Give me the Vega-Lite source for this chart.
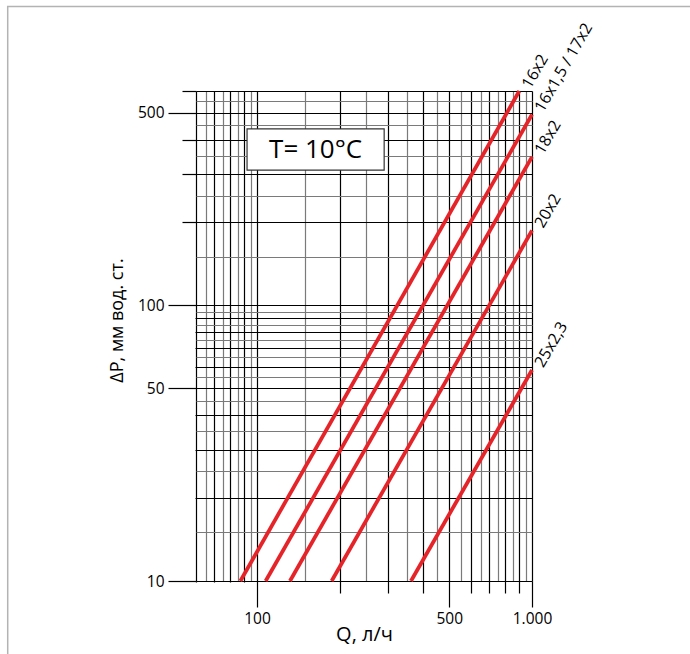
{
  "$schema": "https://vega.github.io/schema/vega-lite/v6.json",
  "width": 336,
  "height": 490,
  "autosize": "none",
  "padding": {"left": 196, "top": 91, "right": 158, "bottom": 73},
  "background": "white",
  "config": {"view": {"stroke": null}, "font": "Open Sans"},
  "datasets": {
    "curves": [
      {"series": "16x2", "Q": 87, "dP": 10},
      {"series": "16x2", "Q": 899, "dP": 600, "label": "16x2"},
      {"series": "16x1,5 / 17x2", "Q": 107.5, "dP": 10},
      {"series": "16x1,5 / 17x2", "Q": 1000, "dP": 493, "label": "16x1,5 / 17x2"},
      {"series": "18x2", "Q": 131.8, "dP": 10},
      {"series": "18x2", "Q": 1000, "dP": 346, "label": "18x2"},
      {"series": "20x2", "Q": 186.8, "dP": 10},
      {"series": "20x2", "Q": 1000, "dP": 187, "label": "20x2"},
      {"series": "25x2,3", "Q": 363, "dP": 10},
      {"series": "25x2,3", "Q": 1000, "dP": 58.3, "label": "25x2,3"}
    ]
  },
  "layer": [
    {
      "data": {"values": [{"frame": "page"}]},
      "mark": {"type": "rect", "filled": false, "stroke": "#b3b3b3", "strokeWidth": 1.5},
      "encoding": {
        "x": {"datum": 12.4, "type": "quantitative"},
        "x2": {"datum": 5000},
        "y": {"datum": 1215, "type": "quantitative"},
        "y2": {"datum": 3}
      }
    },
    {
      "data": {"name": "curves"},
      "mark": {"type": "line", "color": "#e5242a", "strokeWidth": 3.8, "strokeCap": "butt"},
      "encoding": {
        "x": {
          "field": "Q",
          "type": "quantitative",
          "scale": {"type": "log", "domain": [60, 1000], "nice": false},
          "axis": {
            "title": "Q, л/ч",
            "titleFont": "Open Sans",
            "titleFontSize": 20,
            "titleFontWeight": "normal",
            "titleColor": "#000",
            "titlePadding": -2,
            "values": [60, 65, 70, 75, 80, 85, 90, 95, 100, 150, 200, 250, 300, 350, 400, 450, 500, 550, 600, 650, 700, 750, 800, 850, 900, 950, 1000],
            "domain": false,
            "grid": true,
            "gridColor": {"condition": {"test": "datum.value < 100 ? datum.value % 10 == 0 : datum.value % 100 == 0", "value": "#000000"}, "value": "#7a7a7a"},
            "gridWidth": 1.2,
            "gridOpacity": 1,
            "tickColor": "#000000",
            "tickWidth": 1.2,
            "tickSize": {"condition": [{"test": "datum.value == 100 || datum.value == 500 || datum.value == 1000", "value": 26}, {"test": "datum.value < 100 ? datum.value % 10 == 0 : datum.value % 100 == 0", "value": 12}], "value": 0},
            "labelExpr": "datum.value == 1000 ? '1.000' : datum.value == 500 ? '500' : datum.value == 100 ? '100' : ''",
            "labelFont": "Open Sans",
            "labelFontSize": 15.5,
            "labelColor": "#000",
            "labelPadding": 4,
            "labelFlush": false,
            "labelOverlap": false
          }
        },
        "y": {
          "field": "dP",
          "type": "quantitative",
          "scale": {"type": "log", "domain": [10, 600], "nice": false},
          "axis": {
            "title": "ΔP, мм вод. ст.",
            "titleFont": "Open Sans",
            "titleFontSize": 18,
            "titleFontWeight": "normal",
            "titleColor": "#000",
            "titleX": -70,
            "titleY": 229,
            "values": [10, 15, 20, 25, 30, 35, 40, 45, 50, 55, 60, 65, 70, 75, 80, 85, 90, 95, 100, 150, 200, 250, 300, 350, 400, 450, 500, 550, 600],
            "domain": false,
            "grid": true,
            "gridColor": {"condition": {"test": "datum.value < 100 ? datum.value % 10 == 0 : datum.value % 100 == 0", "value": "#000000"}, "value": "#7a7a7a"},
            "gridWidth": 1.2,
            "gridOpacity": 1,
            "tickColor": "#000000",
            "tickWidth": 1.2,
            "tickSize": {"condition": [{"test": "datum.value == 10 || datum.value == 50 || datum.value == 100 || datum.value == 500", "value": 28}, {"test": "datum.value < 100 ? datum.value % 10 == 0 : datum.value % 100 == 0", "value": 14}], "value": 0},
            "labelExpr": "datum.value == 500 ? '500' : datum.value == 100 ? '100' : datum.value == 50 ? '50' : datum.value == 10 ? '10' : ''",
            "labelFont": "Open Sans",
            "labelFontSize": 15.5,
            "labelColor": "#000",
            "labelPadding": 4,
            "labelFlush": false,
            "labelOverlap": false
          }
        },
        "detail": {"field": "series"}
      }
    },
    {
      "data": {"name": "curves"},
      "transform": [{"filter": "datum.label != null"}],
      "mark": {"type": "text", "angle": 300, "align": "left", "baseline": "alphabetic", "dx": 7, "dy": 9, "fontSize": 16, "font": "Open Sans", "color": "#000"},
      "encoding": {
        "x": {"field": "Q", "type": "quantitative"},
        "y": {"field": "dP", "type": "quantitative"},
        "text": {"field": "label"}
      }
    },
    {
      "data": {"values": [{"t": "T= 10°C"}]},
      "mark": {"type": "rect", "fill": "white", "stroke": "#333333", "strokeWidth": 1.2},
      "encoding": {
        "x": {"datum": 92, "type": "quantitative"},
        "x2": {"datum": 290},
        "y": {"datum": 437, "type": "quantitative"},
        "y2": {"datum": 310}
      }
    },
    {
      "data": {"values": [{"t": "T= 10°C"}]},
      "mark": {"type": "text", "align": "center", "baseline": "middle", "fontSize": 26, "font": "Open Sans", "color": "#000"},
      "encoding": {
        "x": {"datum": 163.4, "type": "quantitative"},
        "y": {"datum": 368, "type": "quantitative"},
        "text": {"field": "t"}
      }
    }
  ]
}
